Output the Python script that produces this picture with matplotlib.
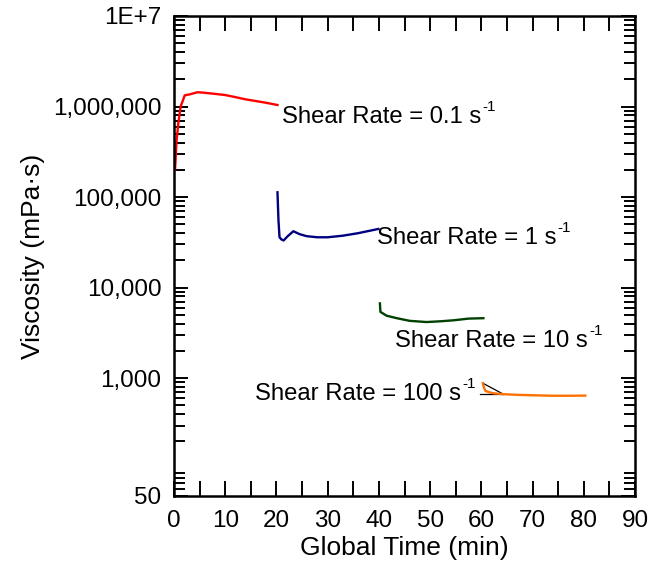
import numpy as np
import matplotlib
matplotlib.use("Agg")
import matplotlib.pyplot as plt
from matplotlib.ticker import FixedLocator, LogLocator, MultipleLocator, NullFormatter
from matplotlib.transforms import offset_copy

plt.rcParams['font.family'] = ['Liberation Sans', 'DejaVu Sans']

# Viscosity traces at each shear rate (time in min, viscosity in mPa·s)
t_01 = [0.2, 0.5, 0.85, 1.3, 2.1, 3.0, 4.6, 6.0, 8.0, 10.0, 12.0, 14.0, 16.0, 18.0, 20.2]
v_01 = [2.0e5, 4.2e5, 6.6e5, 1.0e6, 1.33e6, 1.36e6, 1.44e6, 1.42e6, 1.38e6, 1.34e6, 1.27e6, 1.2e6, 1.15e6, 1.1e6, 1.04e6]

t_1 = [20.2, 20.4, 20.6, 21.0, 21.4, 22.2, 23.3, 24.5, 25.9, 28.0, 30.0, 33.0, 36.0, 39.9]
v_1 = [1.13e5, 5.5e4, 3.6e4, 3.4e4, 3.32e4, 3.7e4, 4.2e4, 3.9e4, 3.7e4, 3.6e4, 3.6e4, 3.75e4, 4.0e4, 4.45e4]

t_10 = [40.2, 40.3, 41.5, 43.5, 46.0, 49.3, 52.0, 54.6, 57.5, 60.4]
v_10 = [6.7e3, 5.4e3, 4.9e3, 4.6e3, 4.3e3, 4.17e3, 4.25e3, 4.36e3, 4.55e3, 4.6e3]

t_100 = [60.3, 60.5, 60.8, 61.5, 62.5, 64.3, 67.0, 70.0, 74.0, 77.0, 80.3]
v_100 = [880, 790, 725, 700, 680, 666, 655, 648, 640, 640, 642]

# thin black guide lines near the start of the 100 s^-1 step
t_ref_a = [60.3, 64.3]
v_ref_a = [880, 666]
t_ref_b = [59.8, 64.3]
v_ref_b = [666, 666]

rate_labels = ["Shear Rate = 0.1 s", "Shear Rate = 1 s",
               "Shear Rate = 10 s", "Shear Rate = 100 s"]
label_x = [21.0, 39.6, 43.15, 15.8]
label_y = [6.6e5, 3.07e4, 2.2e3, 5.75e2]

y_ticks = [50, 1e3, 1e4, 1e5, 1e6, 1e7]
y_tick_labels = ["50", "1,000", "10,000", "100,000", "1,000,000", "1E+7"]

fig = plt.figure(figsize=(6.49, 5.69), dpi=100)
ax = fig.add_axes([174 / 649, 1 - 496 / 569, (635 - 174) / 649, (496 - 16) / 569])

ax.plot(t_01, v_01, color="#ff0000", lw=1.7)
ax.plot(t_1, v_1, color="#000080", lw=1.7)
ax.plot(t_10, v_10, color="#004000", lw=1.7)
ax.plot(t_ref_a, v_ref_a, color="black", lw=0.9)
ax.plot(t_ref_b, v_ref_b, color="black", lw=0.9)
ax.plot(t_100, v_100, color="#ff7000", lw=1.7)

ax.set_yscale("log")
ax.set_xlim(0, 90)
ax.set_ylim(50, 1e7)

ax.yaxis.set_major_locator(FixedLocator(y_ticks))
ax.set_yticklabels(y_tick_labels)
ax.yaxis.set_minor_locator(LogLocator(base=10, subs=np.arange(2, 10)))
ax.yaxis.set_minor_formatter(NullFormatter())
ax.xaxis.set_major_locator(MultipleLocator(10))
ax.xaxis.set_minor_locator(MultipleLocator(5))

ax.tick_params(which="both", direction="in", top=True, right=True, width=1.4,
               labelsize=17.5, colors="black")
ax.tick_params(axis="x", which="both", length=11, pad=10)
ax.tick_params(axis="y", which="major", length=10, pad=9)
ax.tick_params(axis="y", which="minor", length=8)
for s in ax.spines.values():
    s.set_linewidth(1.8)

ax.set_xlabel("Global Time (min)", fontsize=19, labelpad=3)
ax.set_ylabel("Viscosity (mPa·s)", fontsize=19, labelpad=6)

# rate labels with a small raised "-1" exponent after the unit
renderer = fig.canvas.get_renderer()
inv = ax.transData.inverted()
for txt, x, y in zip(rate_labels, label_x, label_y):
    main = ax.text(x, y, txt, fontsize=17.2, va="baseline", ha="left")
    bb = main.get_window_extent(renderer)
    x_end, _ = inv.transform((bb.x1, bb.y0))
    sup_tr = offset_copy(ax.transData, fig=fig, x=1.0, y=8.5, units="points")
    ax.text(x_end, y, "-1", fontsize=11, va="baseline", ha="left", transform=sup_tr)

fig.savefig("out.png", dpi=100)
